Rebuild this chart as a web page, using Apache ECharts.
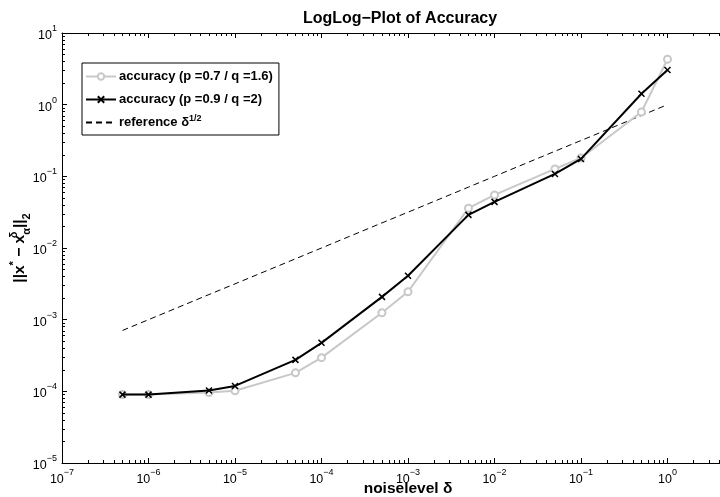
<!DOCTYPE html>
<html>
<head>
<meta charset="utf-8">
<script src="https://cdn.jsdelivr.net/npm/echarts@6/dist/echarts.min.js"></script>
<style>html,body{margin:0;padding:0;background:#fff}#c{width:720px;height:497px}</style>
</head>
<body>
<div id="c"></div>
<script>
// ---- data ----
const noiseLevels = [5e-7, 1e-6, 5e-6, 1e-5, 5e-5, 1e-4, 5e-4, 1e-3, 5e-3, 1e-2, 5e-2, 1e-1, 5e-1, 1];
const accuracyA = [9.0e-5, 9.0e-5, 9.6e-5, 1.02e-4, 1.81e-4, 2.95e-4, 1.25e-3, 2.45e-3, 0.036, 0.055, 0.127, 0.18, 0.79, 4.3];   // p=0.7 / q=1.6
const accuracyB = [9.0e-5, 9.0e-5, 1.03e-4, 1.19e-4, 2.75e-4, 4.75e-4, 2.08e-3, 4.1e-3, 0.029, 0.044, 0.108, 0.175, 1.42, 3.05]; // p=0.9 / q=2
const referenceVals = [7.07e-4, 1e-3, 2.24e-3, 3.16e-3, 7.07e-3, 0.01, 0.0224, 0.0316, 0.0707, 0.1, 0.224, 0.316, 0.707, 1];
const seriesNames = ['accuracy (p =0.7 / q =1.6)', 'accuracy (p =0.9 / q =2)', 'reference δ^1/2'];
const xMajorTicks = [1e-7, 1e-6, 1e-5, 1e-4, 1e-3, 1e-2, 1e-1, 1, 10];
const yMajorTicks = [1e-5, 1e-4, 1e-3, 1e-2, 1e-1, 1, 10];
const titleText = 'LogLog−Plot of Accuracy';
const xName = 'noiselevel δ';

function minorTicks(majors) {
  const out = [];
  for (let i = 0; i < majors.length - 1; i++) {
    for (let k = 2; k <= 9; k++) out.push(+(majors[i] * k).toPrecision(3));
  }
  return out;
}
const xMinor = minorTicks(xMajorTicks);
const yMinor = minorTicks(yMajorTicks);

const FONT = '"Liberation Sans", Arial, Helvetica, sans-serif';
const GRID = { left: 62, top: 33, width: 692, height: 430, containLabel: false, outerBoundsMode: 'none' };

function powLabel(v) {
  const l = Math.log10(v);
  const e = Math.round(l);
  if (Math.abs(l - e) > 1e-6) return '';
  return '{b|10}{sup|' + (e < 0 ? '−' + (-e) : e) + '}';
}
const labelRich = {
  b: { fontFamily: FONT, fontSize: 12.5, color: '#000', lineHeight: 18, verticalAlign: 'bottom' },
  sup: { fontFamily: FONT, fontSize: 9, color: '#000', lineHeight: 11, verticalAlign: 'top' }
};

const axLine = { show: true, lineStyle: { color: '#000', width: 1 } };

function xAx(grid, pos, major, showLine) {
  return {
    type: 'log', logBase: 10, gridIndex: grid, position: pos,
    min: 1e-7, max: 10, interval: 1,
    axisLine: showLine ? axLine : { show: false },
    axisTick: major ? { show: true, inside: true, length: 5, lineStyle: { color: '#000' } }
                    : { show: true, inside: true, length: 3, customValues: xMinor, lineStyle: { color: '#000' } },
    axisLabel: { show: false },
    splitLine: { show: false }, minorTick: { show: false }
  };
}
function yAx(grid, major) {
  return {
    type: 'log', logBase: 10, gridIndex: grid, position: 'left',
    min: 1e-5, max: 10, interval: 1,
    axisLine: major ? axLine : { show: false },
    axisTick: major ? { show: true, inside: true, length: 5, lineStyle: { color: '#000' } }
                    : { show: true, inside: true, length: 3, customValues: yMinor, lineStyle: { color: '#000' } },
    axisLabel: { show: false },
    splitLine: { show: false }, minorTick: { show: false }
  };
}

const xMain = xAx(0, 'bottom', true, true);
xMain.axisLabel = { show: true, formatter: powLabel, rich: labelRich, margin: 5, showMinLabel: true, showMaxLabel: true };
xMain.name = xName;
xMain.nameLocation = 'middle';
xMain.nameGap = 18;
xMain.nameMoveOverlap = false;
xMain.nameTextStyle = { fontFamily: FONT, fontSize: 15.5, fontWeight: 'bold', color: '#000' };

const yMain = yAx(0, true);
yMain.axisLabel = { show: true, formatter: powLabel, rich: labelRich, margin: 5, showMinLabel: true, showMaxLabel: true };
yMain.name = '||x{sup|*} − x{supz|δ}{sub|α}||{sub|2}';
yMain.nameLocation = 'middle';
yMain.nameRotate = 90;
yMain.nameGap = 30;
yMain.nameMoveOverlap = false;
yMain.nameTextStyle = {
  fontFamily: FONT, fontSize: 15.5, fontWeight: 'bold', color: '#000', lineHeight: 24,
  rich: {
    sup: { fontFamily: FONT, fontSize: 11, fontWeight: 'bold', color: '#000', lineHeight: 12, verticalAlign: 'top' },
    supz: { fontFamily: FONT, fontSize: 11, fontWeight: 'bold', color: '#000', lineHeight: 12, verticalAlign: 'top', width: 0, align: 'left' },
    sub: { fontFamily: FONT, fontSize: 11, fontWeight: 'bold', color: '#000', lineHeight: 12, verticalAlign: 'bottom' }
  }
};

const chart = echarts.init(document.getElementById('c'), null, { renderer: 'canvas' });
chart.setOption({
  backgroundColor: '#fff',
  animation: false,
  title: {
    text: titleText, left: 395, top: 6, textAlign: 'center',
    textStyle: { fontFamily: FONT, fontSize: 16, fontWeight: 'bold', color: '#000' }
  },
  grid: [Object.assign({}, GRID), Object.assign({}, GRID)],
  xAxis: [xMain, xAx(0, 'top', true, true), xAx(1, 'bottom', false, false), xAx(1, 'top', false, false)],
  yAxis: [yMain, yAx(1, false)],
  legend: {
    orient: 'vertical', left: 82, top: 63,
    backgroundColor: '#fff', borderColor: '#000', borderWidth: 1, borderRadius: 0,
    padding: [5, 6, 4, 3], itemGap: 6, itemWidth: 30, itemHeight: 8,
    formatter: function (n) { return n === seriesNames[2] ? 'reference δ{sup|1/2}' : n; },
    textStyle: {
      fontFamily: FONT, fontSize: 13, fontWeight: 'bold', color: '#000', lineHeight: 17, padding: [0, 0, 0, -2],
      rich: { sup: { fontFamily: FONT, fontSize: 9, fontWeight: 'bold', color: '#000', lineHeight: 10, verticalAlign: 'top' } }
    },
    data: [
      { name: seriesNames[0] },
      { name: seriesNames[1] },
      { name: seriesNames[2], itemStyle: { opacity: 0 } }
    ]
  },
  series: [
    {
      name: seriesNames[0], type: 'line', xAxisIndex: 0, yAxisIndex: 0,
      data: noiseLevels.map((x, i) => [x, accuracyA[i]]),
      symbol: 'emptyCircle', symbolSize: 7, showAllSymbol: true,
      lineStyle: { color: '#c8c8c8', width: 2 },
      itemStyle: { color: '#c8c8c8', borderColor: '#c8c8c8', borderWidth: 1.5 },
      z: 2
    },
    {
      name: seriesNames[1], type: 'line', xAxisIndex: 0, yAxisIndex: 0,
      data: noiseLevels.map((x, i) => [x, accuracyB[i]]),
      symbol: 'path://M0,0L10,10M10,0L0,10', symbolSize: 6, showAllSymbol: true,
      lineStyle: { color: '#000', width: 2 },
      itemStyle: { color: '#000', borderColor: '#000', borderWidth: 1.5 },
      z: 3
    },
    {
      name: seriesNames[2], type: 'line', xAxisIndex: 0, yAxisIndex: 0,
      data: noiseLevels.map((x, i) => [x, referenceVals[i]]),
      symbol: 'none',
      lineStyle: { color: '#000', width: 1, type: [6, 4] },
      itemStyle: { color: '#000' },
      z: 1
    }
  ]
});
</script>
</body>
</html>
